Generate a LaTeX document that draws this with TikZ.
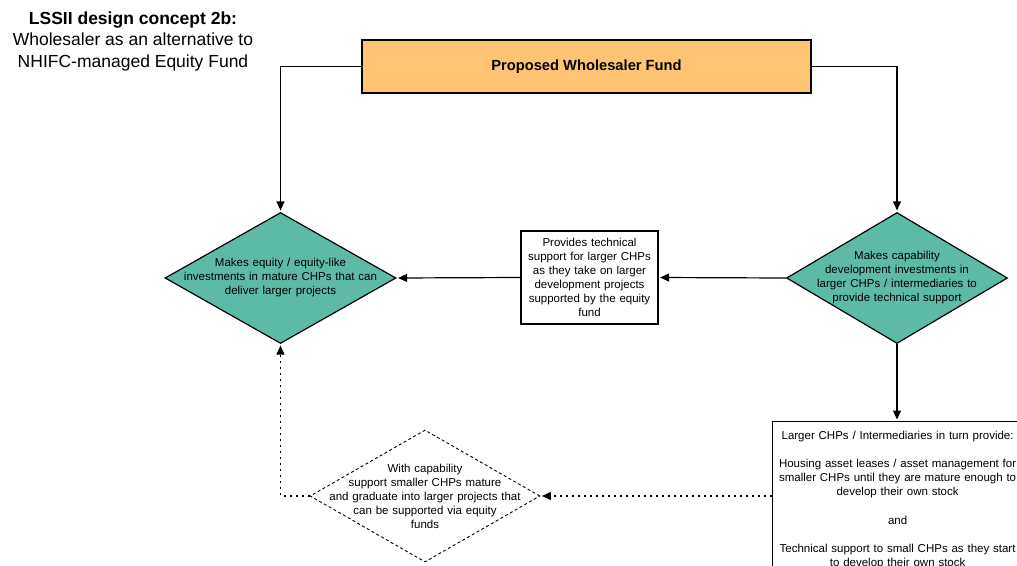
\documentclass[tikz,border=0pt]{standalone}
\usepackage{fontspec}
\setmainfont{Liberation Sans}
\usetikzlibrary{shapes.geometric,arrows.meta}
\definecolor{fundorange}{RGB}{255,195,116}
\definecolor{investteal}{RGB}{92,186,167}
\begin{document}
\begin{tikzpicture}[x=1pt,y=-1pt,
  line width=1.2pt,
  arr/.style={-{Triangle[length=9pt,width=8pt]}, shorten >=1.5pt},
  dotline/.style={line width=1.1pt,dash pattern=on 2pt off 4pt},
  bodytext/.style={font=\fontsize{11.5}{14}\selectfont, align=center},
  decision/.style={diamond, draw, fill=investteal, inner sep=0pt,
    minimum width=231pt, minimum height=131pt},
  plainbox/.style={draw, fill=white, bodytext}
]
\useasboundingbox (0,0) rectangle (1017,565);

% heading
\node[align=center, font=\fontsize{17.5}{21.5}\selectfont] (title) at (133,41)
  {\textbf{LSSII design concept 2b:}\\ Wholesaler as an alternative to\\ NHIFC-managed Equity Fund};

% fund box
\node[draw, fill=fundorange, minimum width=449pt, minimum height=53pt,
  font=\fontsize{14.7}{16}\selectfont\bfseries] (fund) at (586.5,66.5) {Proposed Wholesaler Fund};

% equity investment decision
\node[decision] (eqd) at (280.5,278) {};
\node[bodytext, text width=205pt] (eqt) at (eqd.center)
  {Makes equity / equity-like\\ investments in mature CHPs that can\\ deliver larger projects};

% capability investment decision
\node[decision, minimum width=221pt] (capd) at (897,278) {};
\node[bodytext, text width=180pt] (capt) at (capd.center)
  {Makes capability\\ development investments in\\ larger CHPs / intermediaries to\\ provide technical support};

% technical support box
\node[plainbox, minimum width=137pt, minimum height=93pt, text width=129pt, inner sep=3pt] (tech) at (589.5,277.5)
  {Provides technical\\ support for larger CHPs\\ as they take on larger\\ development projects\\ supported by the equity\\ fund};

% larger CHPs box
\node[plainbox, anchor=north west, text width=246pt, inner xsep=2pt, inner ysep=9.5pt,
  font=\fontsize{11.5}{14.1}\selectfont] (chp) at (772,421)
  {Larger CHPs / Intermediaries in turn provide:\\[14.1pt]
   Housing asset leases / asset management for\\ smaller CHPs until they are mature enough to\\ develop their own stock\\[14.1pt]
   and\\[14.1pt]
   Technical support to small CHPs as they start\\ to develop their own stock\\[14pt] \strut};

% smaller CHPs decision
\node[decision, fill=white, dash pattern=on 3pt off 2.5pt, line width=0.9pt,
  minimum width=230pt, minimum height=132pt] (smalld) at (425,496) {};
\node[bodytext, text width=205pt] (smallt) at (smalld.center)
  {With capability\\ support smaller CHPs mature\\ and graduate into larger projects that\\ can be supported via equity\\ funds};

% connectors
\draw[arr] (fund.west) -| (eqd.north);
\draw[arr] (fund.east) -| (capd.north);
\draw[arr] (capd.west) -- (tech.east);
\draw[arr] (tech.west) -- (eqd.east);
\draw[arr] (capd.south) -- (capd.south |- chp.north);
\draw[arr, dotline] (chp.west |- smalld.east) -- (smalld.east);
\draw[arr, dotline] (smalld.west) -| (eqd.south);
\end{tikzpicture}
\end{document}
